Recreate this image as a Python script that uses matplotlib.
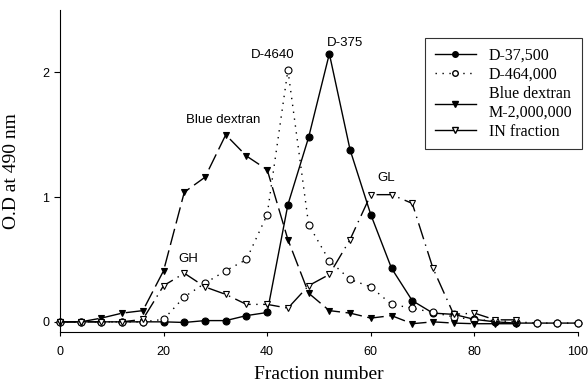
import matplotlib
matplotlib.use("Agg")
import matplotlib.pyplot as plt
from matplotlib.lines import Line2D

# fraction numbers (every 4th fraction)
frac = [0, 4, 8, 12, 16, 20, 24, 28, 32, 36, 40, 44, 48, 52, 56, 60,
        64, 68, 72, 76, 80, 84, 88, 92, 96, 100]

d37500 = [0.0, 0.0, 0.0, 0.0, 0.0, 0.0, -0.005, 0.01, 0.01, 0.05, 0.075, 0.94,
          1.48, 2.15, 1.38, 0.86, 0.43, 0.17, 0.07, 0.06, 0.02, 0.0, -0.01,
          -0.01, -0.01, -0.01]

d464000 = [0.0, 0.0, 0.0, 0.0, 0.0, 0.02, 0.2, 0.31, 0.41, 0.5, 0.86, 2.02,
           0.78, 0.49, 0.34, 0.28, 0.14, 0.11, 0.075, 0.04, 0.016, 0.01, 0.0,
           -0.01, -0.01, -0.01]

# blue dextran stops at fraction 88
blue_x = frac[:23]
blue = [0.0, 0.0, 0.03, 0.07, 0.09, 0.41, 1.04, 1.16, 1.5, 1.33, 1.22, 0.66,
        0.23, 0.09, 0.07, 0.03, 0.05, -0.015, 0.0, -0.01, -0.015, -0.015, -0.015]

# IN fraction stops at fraction 88
in_x = frac[:23]
in_frac = [0.0, 0.0, 0.0, 0.0, 0.02, 0.29, 0.39, 0.28, 0.22, 0.14, 0.14, 0.11,
           0.29, 0.38, 0.66, 1.02, 1.02, 0.95, 0.43, 0.06, 0.07, 0.016, 0.016]

labels = ["D-37,500", "D-464,000", "Blue dextran\nM-2,000,000", "IN fraction"]

fig = plt.figure(figsize=(5.88, 3.89), dpi=100)
ax = fig.add_axes([0.102, 0.147, 0.881, 0.827])

mk = dict(markersize=5, clip_on=False, markeredgewidth=0.8)
ax.plot(frac, d37500, "-", color="black", lw=1.0, marker="o",
        markerfacecolor="black", markeredgecolor="black", **mk)
ax.plot(frac, d464000, color="black", lw=1.0, linestyle=(0, (1, 4)),
        marker="o", markerfacecolor="white", markeredgecolor="black", **mk)
ax.plot(blue_x, blue, color="black", lw=1.0, linestyle=(0, (12, 4)),
        marker="v", markerfacecolor="black", markeredgecolor="black", **mk)
ax.plot(in_x, in_frac, color="black", lw=1.0, linestyle=(0, (12, 4, 1, 4)),
        marker="v", markerfacecolor="white", markeredgecolor="black", **mk)

ax.set_xlim(0, 100)
ax.set_ylim(-0.08, 2.5)
ax.set_xticks([0, 20, 40, 60, 80, 100])
ax.set_yticks([0, 1, 2])
for s in ["top", "right"]:
    ax.spines[s].set_visible(False)
ax.tick_params(direction="out", length=4, width=0.8, labelsize=9,
               labelfontfamily="Liberation Sans")
ax.tick_params(axis="x", length=3, pad=7)

ax.set_xlabel("Fraction number", family="Liberation Serif", fontsize=14, labelpad=6)
ax.set_ylabel("O.D at 490 nm", family="Liberation Serif", fontsize=14, labelpad=16)

ann = dict(family="Liberation Sans", fontsize=9.5, ha="center", va="center")
ax.text(41.1, 2.14, "D-4640", **ann)
ax.text(55.0, 2.24, "D-375", **ann)
ax.text(31.5, 1.62, "Blue dextran", **ann)
ax.text(24.7, 0.5, "GH", **ann)
ax.text(63.0, 1.15, "GL", **ann)

handles = [
    Line2D([], [], color="black", lw=1.0, marker="o", markerfacecolor="black",
           markersize=4),
    Line2D([], [], color="black", lw=1.0, linestyle=(0, (1, 4)), marker="o",
           markerfacecolor="white", markeredgecolor="black", markersize=4),
    Line2D([], [], color="black", lw=1.0, marker="v", markerfacecolor="black",
           markersize=4),
    Line2D([], [], color="black", lw=1.0, marker="v", markerfacecolor="white",
           markeredgecolor="black", markersize=4),
]
leg = ax.legend(handles, labels, loc="upper right", bbox_to_anchor=(1.008, 0.913),
                borderaxespad=0,
                prop={"family": "Liberation Serif", "size": 11.5},
                frameon=True, fancybox=False, edgecolor="black",
                handlelength=2.6, labelspacing=0.2, borderpad=0.6)
leg.get_frame().set_linewidth(0.8)

fig.savefig("out.png", dpi=100)
